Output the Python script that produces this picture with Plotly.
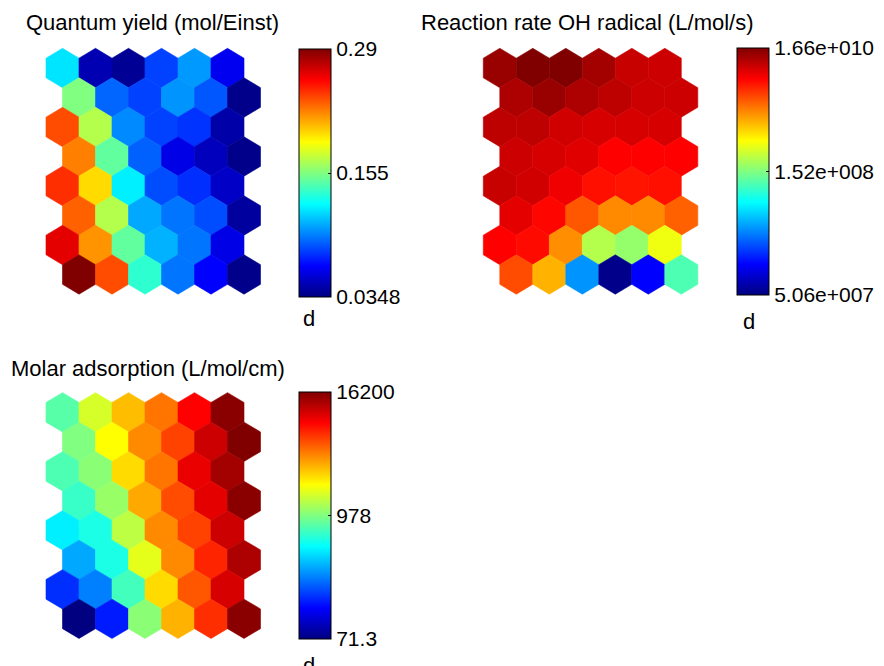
import plotly.graph_objects as go

# The page shows the figure with the browser's default 8 px body margin,
# so the figure is placed at (8, 8) inside the 884x666 window.
WIN_W, WIN_H = 884, 666
OFF = 8
FW, FH = WIN_W - OFF, WIN_H - OFF
FONT = "Liberation Sans, Arial, sans-serif"

# Colour level of every SOM unit on its colorbar scale (0 = bottom label, 1 = top label)
# rows listed top -> bottom, 6 units per row; odd rows are shifted half a unit right
quantum_yield = [
    [0.35, 0.05, 0.02, 0.19, 0.275, 0.11],
    [0.50, 0.225, 0.19, 0.27, 0.21, 0.01],
    [0.80, 0.55, 0.26, 0.19, 0.175, 0.04],
    [0.75, 0.47, 0.22, 0.10, 0.06, 0.01],
    [0.83, 0.66, 0.36, 0.20, 0.17, 0.07],
    [0.78, 0.55, 0.29, 0.24, 0.20, 0.03],
    [0.90, 0.73, 0.47, 0.30, 0.24, 0.10],
    [1.00, 0.80, 0.42, 0.24, 0.125, 0.01],
]
reaction_rate_oh = [
    [0.975, 1.00, 1.00, 0.965, 0.93, 0.925],
    [0.955, 0.975, 0.955, 0.94, 0.925, 0.925],
    [0.94, 0.94, 0.92, 0.915, 0.915, 0.915],
    [0.925, 0.915, 0.905, 0.875, 0.875, 0.875],
    [0.93, 0.92, 0.89, 0.86, 0.855, 0.86],
    [0.90, 0.87, 0.79, 0.74, 0.74, 0.78],
    [0.875, 0.865, 0.735, 0.55, 0.52, 0.61],
    [0.80, 0.70, 0.27, 0.01, 0.125, 0.45],
]
molar_adsorption = [
    [0.46, 0.585, 0.69, 0.76, 0.875, 0.99],
    [0.50, 0.625, 0.74, 0.81, 0.925, 1.00],
    [0.45, 0.51, 0.66, 0.76, 0.895, 0.965],
    [0.43, 0.525, 0.71, 0.80, 0.90, 0.99],
    [0.36, 0.40, 0.56, 0.74, 0.81, 0.925],
    [0.29, 0.40, 0.60, 0.74, 0.84, 0.955],
    [0.17, 0.25, 0.44, 0.66, 0.79, 0.915],
    [0.00, 0.15, 0.51, 0.70, 0.83, 0.99],
]

titles = ["Quantum yield (mol/Einst)", "Reaction rate OH radical (L/mol/s)", "Molar adsorption (L/mol/cm)"]
qy_ticks = ["0.0348", "0.155", "0.29"]
oh_ticks = ["5.06e+007", "1.52e+008", "1.66e+010"]
ma_ticks = ["71.3", "978", "16200"]
tick_levels = [0, 0.5, 1]


def jet(v):
    v = min(max(v, 0.0), 1.0)
    def c(x):
        return int(round(255 * min(max(x, 0.0), 1.0)))
    return "rgb(%d,%d,%d)" % (c(1.5 - abs(4 * v - 3)), c(1.5 - abs(4 * v - 2)), c(1.5 - abs(4 * v - 1)))


JET = [[i / 16, jet(i / 16)] for i in range(17)]


def px_x(p):  # window pixel -> paper x
    return (p - OFF) / FW


def px_y(p):  # window pixel -> paper y
    return 1 - (p - OFF) / FH


UX, UY = 33.0, 29.5  # pixels per column / per row
maps = [
    dict(data=quantum_yield, ticks=qy_ticks, cx0=62.5, cy0=68.0, cbx=299, cby=49, cbl=248, tx=152, ty=22, dx=309, dy=318),
    dict(data=reaction_rate_oh, ticks=oh_ticks, cx0=499.8, cy0=68.0, cbx=737, cby=48, cbl=247, tx=587, ty=22, dx=749, dy=321),
    dict(data=molar_adsorption, ticks=ma_ticks, cx0=62.5, cy0=412.3, cbx=299, cby=392, cbl=247, tx=148, ty=368, dx=309, dy=665),
]

fig = go.Figure()
layout_axes = {}
annotations = []

for k, m in enumerate(maps):
    sfx = "" if k == 0 else str(k + 1)
    xa, ya = "x" + sfx, "y" + sfx
    data = m["data"]
    xs, ys, vs = [], [], []
    for r, row in enumerate(data):
        for c, v in enumerate(row):
            cx = c + 0.5 * (r % 2)
            cy = r
            xs.append(cx); ys.append(cy); vs.append(v)
            col = jet(v)
            fig.add_trace(go.Scatter(
                x=[cx, cx + 0.5, cx + 0.5, cx, cx - 0.5, cx - 0.5, cx],
                y=[cy - 2 / 3, cy - 1 / 3, cy + 1 / 3, cy + 2 / 3, cy + 1 / 3, cy - 1 / 3, cy - 2 / 3],
                mode="lines", fill="toself", fillcolor=col,
                line=dict(color=col, width=0.6),
                xaxis=xa, yaxis=ya, showlegend=False, hoverinfo="skip"))
    fig.add_trace(go.Scatter(
        x=xs, y=ys, mode="markers", xaxis=xa, yaxis=ya, showlegend=False,
        text=[f"{v:.3f}" for v in vs], hoverinfo="text",
        marker=dict(size=1, opacity=0, color=vs, colorscale=JET, cmin=0, cmax=1, showscale=True,
                    colorbar=dict(x=px_x(m["cbx"]), xanchor="left", xpad=0,
                                  y=px_y(m["cby"]), yanchor="top", ypad=0,
                                  len=m["cbl"], lenmode="pixels", thickness=32, thicknessmode="pixels",
                                  outlinewidth=1, outlinecolor="black",
                                  tickvals=tick_levels, ticktext=m["ticks"], ticks="inside", ticklen=3,
                                  tickcolor="black", tickfont=dict(size=21, family=FONT, color="black")))))
    pxl, pxr = m["cx0"] - 30, m["cx0"] + 230
    pyt, pyb = m["cy0"] - 30, m["cy0"] + 240
    layout_axes["xaxis" + sfx] = dict(domain=[px_x(pxl), px_x(pxr)],
                                      range=[(pxl - m["cx0"]) / UX, (pxr - m["cx0"]) / UX],
                                      visible=False, fixedrange=True)
    layout_axes["yaxis" + sfx] = dict(domain=[px_y(pyb), px_y(pyt)],
                                      range=[(pyb - m["cy0"]) / UY, (pyt - m["cy0"]) / UY],
                                      visible=False, fixedrange=True)
    annotations.append(dict(text=titles[k], x=px_x(m["tx"]), y=px_y(m["ty"]), xref="paper", yref="paper",
                            xanchor="center", yanchor="middle", showarrow=False,
                            font=dict(size=22, family=FONT, color="black")))
    annotations.append(dict(text="d", x=px_x(m["dx"]), y=px_y(m["dy"]), xref="paper", yref="paper",
                            xanchor="center", yanchor="middle", showarrow=False,
                            font=dict(size=22, family=FONT, color="black")))

fig.update_layout(width=FW, height=FH, margin=dict(l=0, r=0, t=0, b=0, autoexpand=False),
                  paper_bgcolor="white", plot_bgcolor="white", annotations=annotations, **layout_axes)
fig.write_html("out.html")
